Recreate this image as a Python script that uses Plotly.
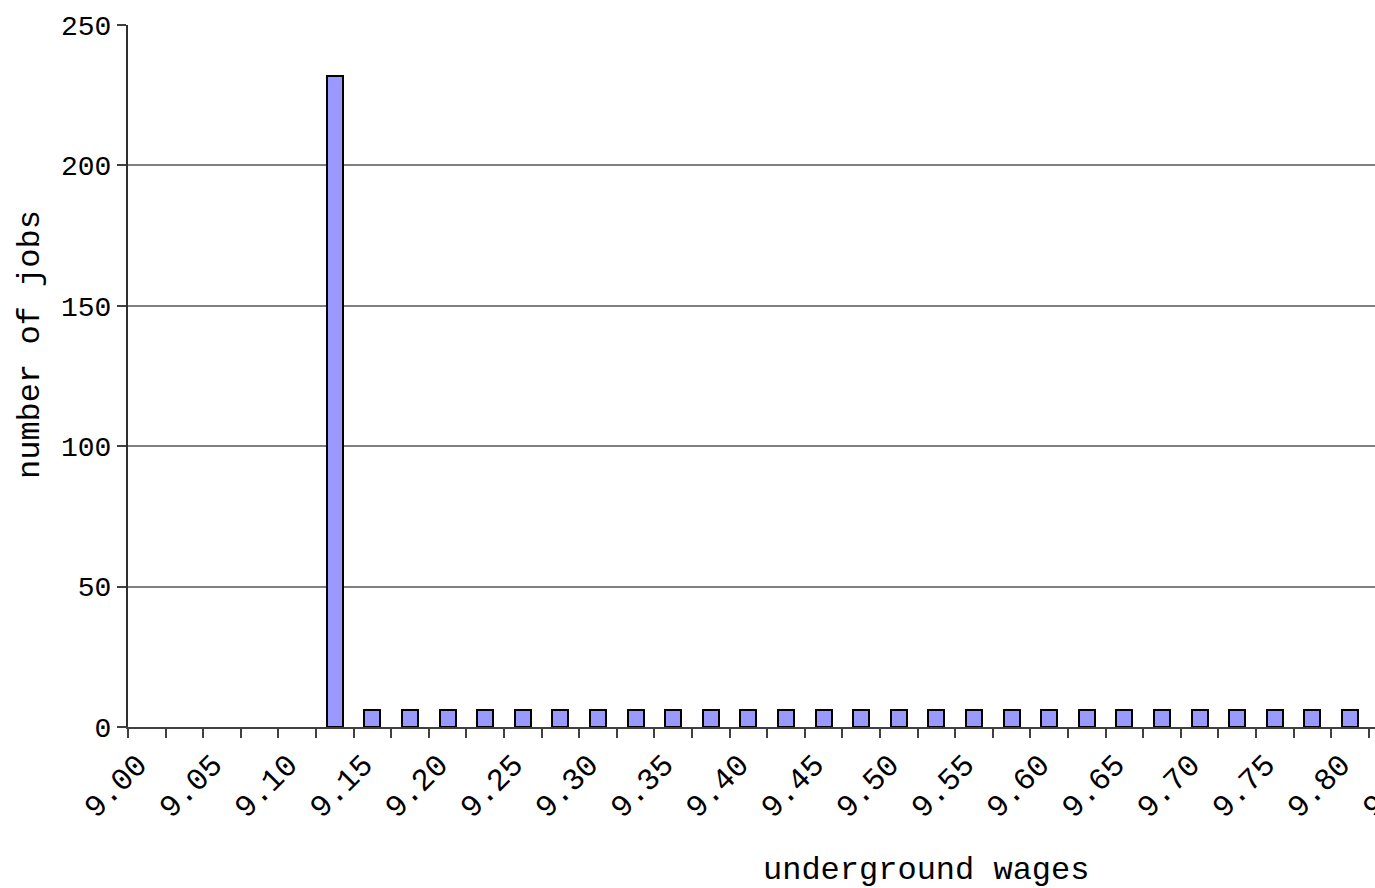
import plotly.graph_objects as go

# Wage bins (0.025 steps) shown on the category axis; labels every 0.05
wage_bins = [f"{9.0 + 0.025 * i:.3f}" for i in range(35)]
bin_labels = [f"{9.0 + 0.025 * i:.2f}" if i % 2 == 0 else "" for i in range(35)]

# Observed jobs per wage bin
bar_wages = [f"{9.125 + 0.025 * i:.3f}" for i in range(28)]
jobs = [232] + [6] * 27

y_ticks = [0, 50, 100, 150, 200, 250]

MONO = "Liberation Mono, DejaVu Sans Mono, monospace"
X_TICK_FONT = dict(family=MONO, size=31, color="black")
Y_TICK_FONT = dict(family=MONO, size=28, color="black")
TITLE_FONT = dict(family="Courier New, Liberation Mono, monospace", size=32, color="black")

fig = go.Figure()
fig.add_trace(go.Bar(
    x=bar_wages,
    y=jobs,
    width=0.43,
    marker=dict(color="#9999FF", line=dict(color="black", width=2)),
    showlegend=False,
))

fig.update_layout(
    width=1460,
    height=888,
    margin=dict(l=128, r=16, t=25, b=161),
    paper_bgcolor="white",
    plot_bgcolor="white",
    bargap=0,
    xaxis=dict(
        type="category",
        categoryorder="array",
        categoryarray=wage_bins,
        tickvals=wage_bins,
        ticktext=bin_labels,
        tickson="boundaries",
        range=[-0.5, len(wage_bins) - 0.5],
        ticks="outside",
        ticklen=9,
        tickwidth=1.5,
        tickcolor="#404040",
        tickangle=-45,
        tickfont=X_TICK_FONT,
        ticklabelstandoff=5,
        ticklabelshift=-9,
        showline=True,
        linecolor="#404040",
        linewidth=2,
        showgrid=False,
        zeroline=False,
    ),
    yaxis=dict(
        range=[0, 250],
        tickvals=y_ticks,
        ticks="outside",
        ticklen=9,
        tickwidth=1.5,
        tickcolor="#404040",
        tickfont=Y_TICK_FONT,
        showline=True,
        linecolor="#303030",
        linewidth=2,
        showgrid=True,
        gridcolor="#808080",
        gridwidth=1.5,
        zeroline=False,
    ),
    annotations=[
        dict(text="underground wages", xref="paper", yref="paper",
             x=(926 - 128) / 1316, y=-(870 - 727) / 702,
             xanchor="center", yanchor="middle", showarrow=False, font=TITLE_FONT),
        dict(text="number of jobs", xref="paper", yref="paper",
             x=-(128 - 30) / 1316, y=(727 - 345) / 702, textangle=-90,
             xanchor="center", yanchor="middle", showarrow=False, font=TITLE_FONT),
    ],
)

fig.write_html(
    "out.html",
    post_script="document.documentElement.style.overflow='hidden';"
                "document.body.style.overflow='hidden';document.body.style.margin='0';",
)
